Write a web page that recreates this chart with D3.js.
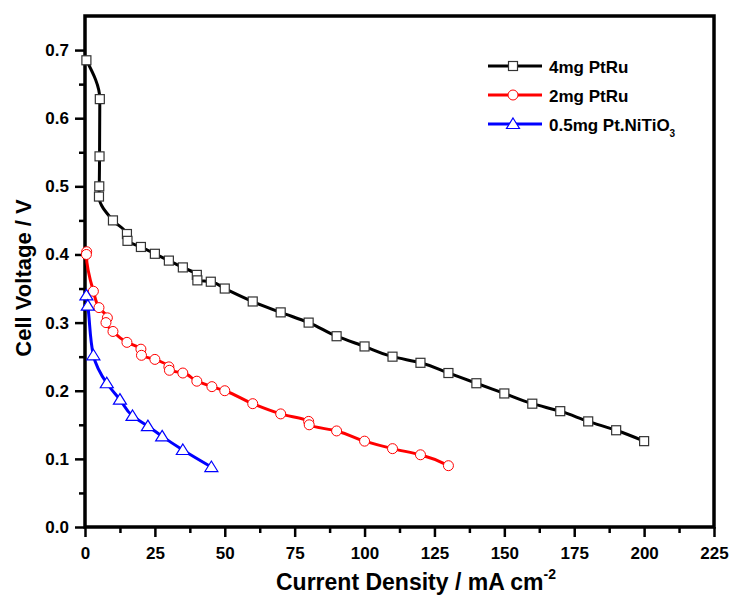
<!DOCTYPE html>
<html>
<head>
<meta charset="utf-8">
<script src="https://cdn.jsdelivr.net/npm/d3@7"></script>
<style>
  body { margin: 0; background: #fff; }
  svg { font-family: "Liberation Sans", Arial, sans-serif; font-weight: bold; }
</style>
</head>
<body>
<svg id="svg" width="732" height="598"></svg>
<script>
// ---- data ----
const xTicks = [0, 25, 50, 75, 100, 125, 150, 175, 200, 225];
const yTicks = [0.0, 0.1, 0.2, 0.3, 0.4, 0.5, 0.6, 0.7];

const pt4X = [0.5, 5.3, 5.2, 5.1, 5, 10, 15, 15.2, 20, 25, 30, 35, 40, 40.2, 45, 50, 60, 70, 80, 90, 100, 110, 120, 130, 140, 150, 160, 170, 180, 190, 200];
const pt4Y = [0.685, 0.628, 0.544, 0.5, 0.485, 0.45, 0.43, 0.42, 0.411, 0.401, 0.391, 0.381, 0.370, 0.362, 0.36, 0.35, 0.331, 0.315, 0.300, 0.28, 0.265, 0.25, 0.241, 0.226, 0.211, 0.196, 0.181, 0.17, 0.155, 0.142, 0.126];

const pt2X = [0.6, 0.5, 3, 5, 8, 7.5, 10, 15, 20, 20.2, 25, 30, 30.2, 35, 40, 45.4, 50, 60, 70, 80, 80.2, 90, 100, 110, 120, 130];
const pt2Y = [0.404, 0.40, 0.346, 0.322, 0.307, 0.30, 0.287, 0.271, 0.261, 0.252, 0.246, 0.235, 0.23, 0.226, 0.214, 0.206, 0.2, 0.181, 0.166, 0.155, 0.15, 0.141, 0.126, 0.115, 0.106, 0.09];

const ptNX = [0.5, 1, 3, 7.8, 12.5, 17, 22.5, 27.6, 35, 45.2];
const ptNY = [0.34, 0.325, 0.252, 0.211, 0.187, 0.163, 0.148, 0.133, 0.113, 0.088];

const names = ["4mg PtRu", "2mg PtRu", "0.5mg Pt.NiTiO"];
const colors = ["#000000", "#ff0000", "#0000ff"];
const markerStroke = ["#333333", "#ff0000", "#0000ff"];
const shapes = ["square", "circle", "triangle"];

const series = [
  { xs: pt4X, ys: pt4Y },
  { xs: pt2X, ys: pt2Y },
  { xs: ptNX, ys: ptNY }
].map((s, i) => ({
  name: names[i], color: colors[i], mstroke: markerStroke[i], shape: shapes[i],
  pts: s.xs.map((x, j) => [x, s.ys[j]])
}));

// ---- layout ----
const mLeft = 85, mRight = 714, mTop = 16, mBottom = 527;
const svg = d3.select("#svg");

const x = d3.scaleLinear().domain([0, 225]).range([mLeft, mRight]);
const y = d3.scaleLinear().domain([0, 0.75]).range([mBottom, mTop]);

// minor ticks
const xMinor = d3.range(12.5, 225, 25);
const yMinor = d3.range(0.05, 0.75, 0.1);

const xAxis = d3.axisBottom(x).tickValues(xTicks).tickFormat(d3.format("d")).tickSizeOuter(0).tickSize(10).tickPadding(10);
const yAxis = d3.axisLeft(y).tickValues(yTicks).tickFormat(d3.format(".1f")).tickSizeOuter(0).tickSize(10).tickPadding(6);

const gx = svg.append("g").attr("transform", `translate(0,${mBottom})`).call(xAxis);
const gy = svg.append("g").attr("transform", `translate(${mLeft},0)`).call(yAxis);

[gx, gy].forEach(g => {
  g.select(".domain").remove();
  g.selectAll(".tick line").attr("stroke", "#000").attr("stroke-width", 2.5);
  g.selectAll(".tick text").attr("fill", "#000").style("font-size", "17px").style("font-weight", "bold");
});

svg.append("g").attr("transform", `translate(0,${mBottom})`)
  .call(d3.axisBottom(x).tickValues(xMinor).tickSize(6).tickFormat(""))
  .call(g => g.select(".domain").remove())
  .selectAll("line").attr("stroke", "#000").attr("stroke-width", 2.5);
svg.append("g").attr("transform", `translate(${mLeft},0)`)
  .call(d3.axisLeft(y).tickValues(yMinor).tickSize(6).tickFormat(""))
  .call(g => g.select(".domain").remove())
  .selectAll("line").attr("stroke", "#000").attr("stroke-width", 2.5);

// frame
svg.append("rect")
  .attr("x", mLeft).attr("y", mTop)
  .attr("width", mRight - mLeft).attr("height", mBottom - mTop)
  .attr("fill", "none").attr("stroke", "#000").attr("stroke-width", 3.5);

// axis titles
svg.append("text")
  .attr("transform", `translate(31,278) rotate(-90)`)
  .attr("text-anchor", "middle")
  .style("font-size", "22px")
  .text("Cell Voltage / V");

const xt = svg.append("text")
  .attr("x", 276).attr("y", 590)
  .attr("text-anchor", "start")
  .style("font-size", "23px");
xt.append("tspan").text("Current Density / mA cm");
xt.append("tspan").attr("dy", -11).style("font-size", "14px").text("-2");

// ---- lines & markers ----
const line = d3.line()
  .x(d => x(d[0]))
  .y(d => y(d[1]))
  .curve(d3.curveMonotoneY);

const drawMarker = (g, shape, cx, cy, stroke) => {
  if (shape === "square") {
    g.append("rect").attr("x", cx - 4.5).attr("y", cy - 4.5).attr("width", 9).attr("height", 9)
      .attr("fill", "#fff").attr("stroke", stroke).attr("stroke-width", 1.2);
  } else if (shape === "circle") {
    g.append("circle").attr("cx", cx).attr("cy", cy).attr("r", 5)
      .attr("fill", "#fff").attr("stroke", stroke).attr("stroke-width", 1);
  } else {
    g.append("path")
      .attr("d", `M${cx},${cy - 6}L${cx + 6.5},${cy + 4.5}L${cx - 6.5},${cy + 4.5}Z`)
      .attr("fill", "#fff").attr("stroke", stroke).attr("stroke-width", 1.2);
  }
};

series.forEach(s => {
  svg.append("path")
    .datum(s.pts)
    .attr("fill", "none")
    .attr("stroke", s.color)
    .attr("stroke-width", 3)
    .attr("stroke-linejoin", "round")
    .attr("d", line);
  const g = svg.append("g");
  s.pts.forEach(p => drawMarker(g, s.shape, x(p[0]), y(p[1]), s.mstroke));
});

// ---- legend ----
const legY = [66, 95, 124];
series.forEach((s, i) => {
  const g = svg.append("g");
  g.append("line")
    .attr("x1", 488).attr("x2", 542).attr("y1", legY[i]).attr("y2", legY[i])
    .attr("stroke", s.color).attr("stroke-width", 3);
  drawMarker(g, s.shape, 513, legY[i], s.mstroke);
  const t = g.append("text")
    .attr("x", 549).attr("y", legY[i] + 7)
    .style("font-size", "17px")
    .text(s.name);
  if (i === 2) t.append("tspan").attr("dy", 6).style("font-size", "10px").text("3");
});
</script>
</body>
</html>
